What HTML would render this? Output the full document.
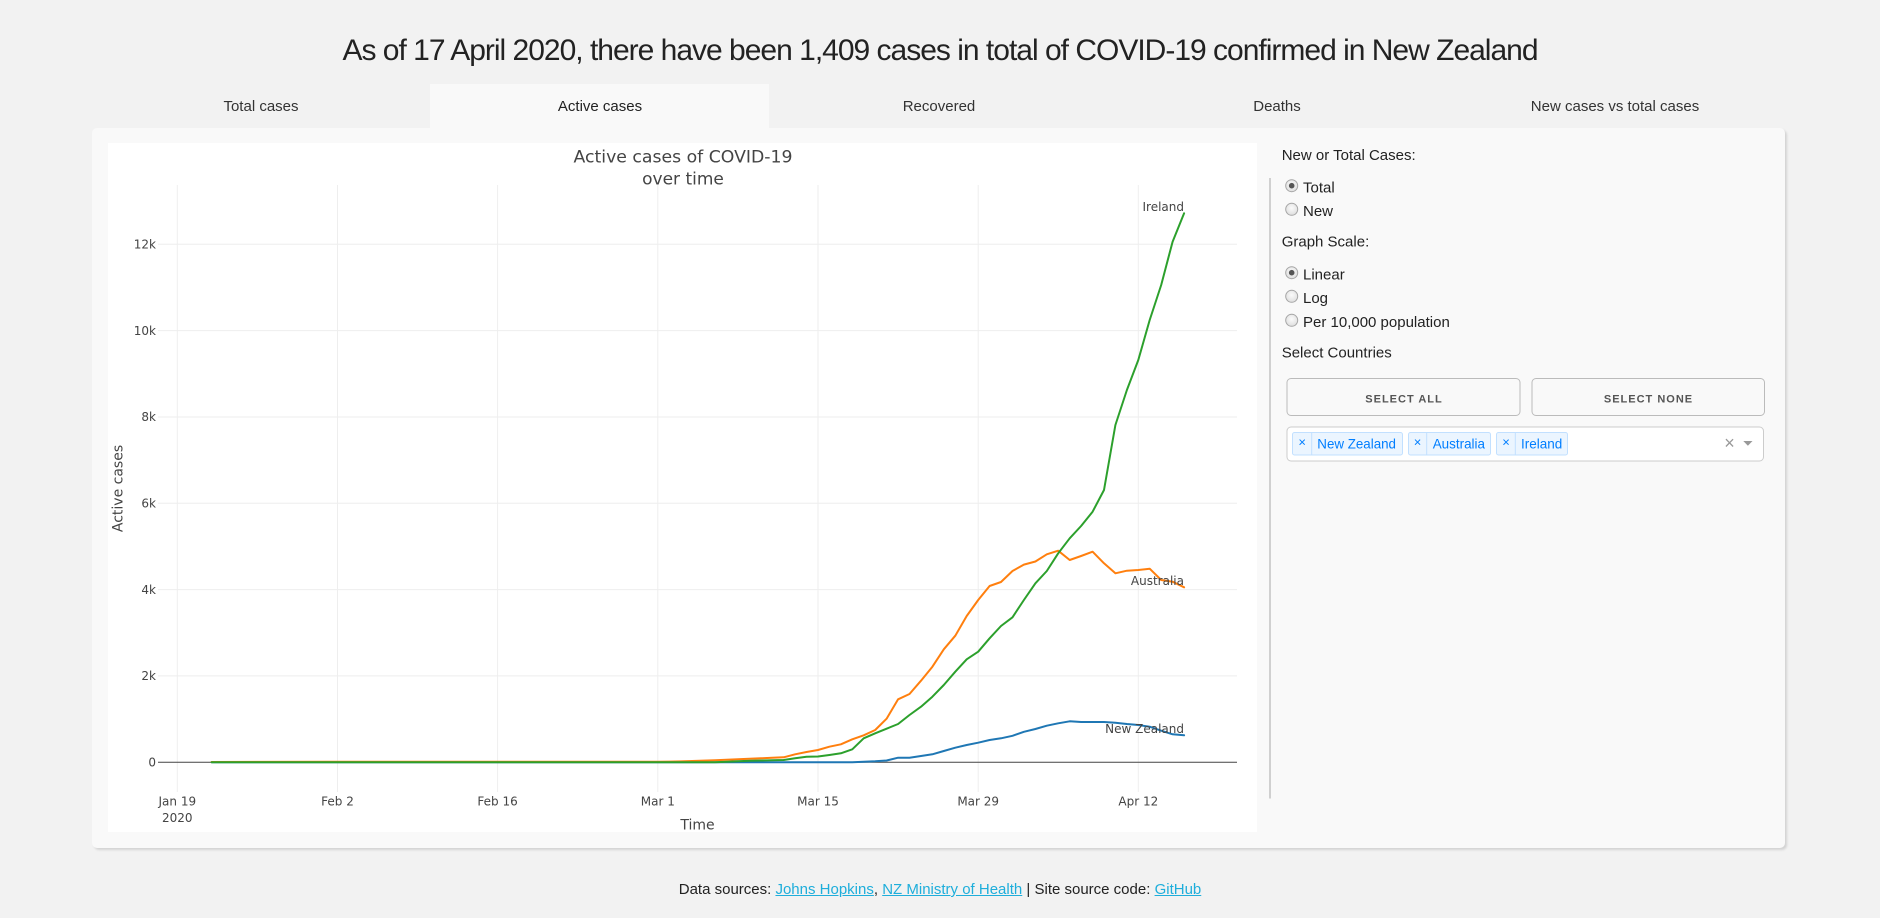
<!DOCTYPE html>
<html>
<head>
<meta charset="utf-8">
<style>
  html, body { margin:0; padding:0; }
  body { width:1880px; height:918px; overflow:hidden; background:#f2f2f2; position:relative;
         font-family:"Liberation Sans", Arial, sans-serif; color:#222; }
  .card { position:absolute; left:92px; top:128px; width:1693px; height:720px; background:#f9f9f9;
          border-radius:5px; box-shadow:2px 2px 2px lightgrey; }
  .tab-active { position:absolute; left:430px; top:84px; width:339px; height:46px; background:#f9f9f9; }
  .plot { position:absolute; left:108px; top:143px; width:1149px; height:689px; background:#fff; }
  .footer { position:absolute; left:0; top:880px; width:1880px; text-align:center; font-size:15px;
            line-height:20px; color:#222; white-space:nowrap; }
  .footer span.l { color:#1EAEDB; text-decoration:underline; }
  svg { position:absolute; left:0; top:0; }
</style>
</head>
<body>
<div class="tab-active"></div>
<div class="card"></div>
<div class="plot"></div>

<svg width="1880" height="918" viewBox="0 0 1880 918" xmlns="http://www.w3.org/2000/svg">
  <!-- Page title -->
  <text x="940" y="60" text-anchor="middle" font-family="Liberation Sans, Arial, sans-serif" font-size="30" fill="#222" letter-spacing="-1">As of 17 April 2020, there have been 1,409 cases in total of COVID-19 confirmed in New Zealand</text>

  <!-- Tabs -->
  <g font-family="Liberation Sans, Arial, sans-serif" font-size="15" fill="#333" text-anchor="middle">
    <text x="261" y="110.8">Total cases</text>
    <text x="600" y="110.8" fill="#222">Active cases</text>
    <text x="939" y="110.8">Recovered</text>
    <text x="1277" y="110.8">Deaths</text>
    <text x="1615" y="110.8">New cases vs total cases</text>
  </g>

  <!-- Plot gridlines -->
  <g stroke="#eeeeee" stroke-width="1" fill="none">
    <line x1="158" y1="675.9" x2="1237" y2="675.9"/>
    <line x1="158" y1="589.6" x2="1237" y2="589.6"/>
    <line x1="158" y1="503.3" x2="1237" y2="503.3"/>
    <line x1="158" y1="417.0" x2="1237" y2="417.0"/>
    <line x1="158" y1="330.6" x2="1237" y2="330.6"/>
    <line x1="158" y1="244.3" x2="1237" y2="244.3"/>
    <line x1="177.3" y1="185" x2="177.3" y2="792"/>
    <line x1="337.5" y1="185" x2="337.5" y2="792"/>
    <line x1="497.6" y1="185" x2="497.6" y2="792"/>
    <line x1="657.8" y1="185" x2="657.8" y2="792"/>
    <line x1="818.0" y1="185" x2="818.0" y2="792"/>
    <line x1="978.2" y1="185" x2="978.2" y2="792"/>
    <line x1="1138.3" y1="185" x2="1138.3" y2="792"/>
  </g>
  <line x1="158" y1="762.3" x2="1237" y2="762.3" stroke="#444" stroke-width="1"/>

  <!-- Series -->
  <g fill="none" stroke-width="2" stroke-linejoin="round" stroke-linecap="round">
    <polyline stroke="#1f77b4" points="211.6,762.3 852.3,762.2 863.7,761.8 875.2,761.3 886.6,760.5 898.1,757.7 909.5,757.7 921,756 932.4,754.3 943.8,751 955.3,747.7 966.7,745 978.2,742.7 989.6,740 1001,738.3 1012.5,735.8 1023.9,731.8 1035.4,729 1046.8,725.7 1058.2,723.3 1069.7,721.3 1081.1,722 1092.6,722 1104,722 1115.4,722.7 1126.9,724 1138.3,725 1149.7,726.7 1161.2,730.7 1172.6,734.3 1184.1,735.3"/>
    <polyline stroke="#ff7f0e" points="211.6,762 326,761.8 657.8,761.8 669.3,761.6 680.7,761.4 692.1,761 703.6,760.6 715,760.2 726.5,759.7 737.9,759.2 749.3,758.8 760.8,758.3 772.2,757.8 783.7,757.3 795.1,754.3 806.5,752 818,750 829.4,746.7 840.9,744.3 852.3,739.3 863.7,735.3 875.2,730 886.6,718.7 898.1,699.3 909.5,694 921,680.7 932.4,666.7 943.8,649.3 955.3,635.7 966.7,616 978.2,600 989.6,586 1001,582 1012.5,571 1023.9,564.6 1035.4,561.5 1046.8,554.3 1058.2,550.7 1069.7,560 1081.1,556 1092.6,551.7 1104,563.3 1115.4,573.3 1126.9,570.7 1138.3,570 1149.7,568.7 1161.2,580 1172.6,581.7 1184.1,587.3"/>
    <polyline stroke="#2ca02c" points="211.6,762.3 646.4,762.3 657.8,762.2 715,762.2 726.5,761.8 737.9,761.2 749.3,760.8 760.8,760.5 772.2,760.3 783.7,760 795.1,758.3 806.5,756.7 818,756.5 829.4,755 840.9,753.3 852.3,749.3 863.7,738.3 875.2,733.3 886.6,728.7 898.1,724 909.5,715 921,706.7 932.4,696.7 943.8,685 955.3,671.7 966.7,659.3 978.2,651.7 989.6,638.3 1001,626 1012.5,617.3 1023.9,600 1035.4,583.3 1046.8,571 1058.2,553.3 1069.7,538.3 1081.1,526 1092.6,511.7 1104,490 1115.4,425 1126.9,390 1138.3,360 1149.7,320 1161.2,285 1172.6,241.7 1184.1,213.3"/>
  </g>

  <!-- Plot text -->
  <g font-family="Verdana, 'DejaVu Sans', sans-serif" fill="#444">
    <text x="683" y="162.7" font-size="17" text-anchor="middle" textLength="219" lengthAdjust="spacingAndGlyphs">Active cases of COVID-19</text>
    <text x="683" y="184.5" font-size="17" text-anchor="middle">over time</text>

    <g font-size="12" text-anchor="end">
      <text x="156" y="766.5">0</text>
      <text x="156" y="680.1">2k</text>
      <text x="156" y="593.8">4k</text>
      <text x="156" y="507.5">6k</text>
      <text x="156" y="421.2">8k</text>
      <text x="156" y="334.8">10k</text>
      <text x="156" y="248.5">12k</text>
    </g>
    <g font-size="12" text-anchor="middle">
      <text x="177.3" y="805.7">Jan 19</text>
      <text x="177.3" y="822">2020</text>
      <text x="337.5" y="805.7">Feb 2</text>
      <text x="497.6" y="805.7">Feb 16</text>
      <text x="657.8" y="805.7">Mar 1</text>
      <text x="818.0" y="805.7">Mar 15</text>
      <text x="978.2" y="805.7">Mar 29</text>
      <text x="1138.3" y="805.7">Apr 12</text>
    </g>
    <g font-size="12" text-anchor="end">
      <text x="1184" y="210.8">Ireland</text>
      <text x="1184" y="584.8">Australia</text>
      <text x="1184" y="732.8">New Zealand</text>
    </g>
    <text x="697.5" y="829.5" font-size="14" text-anchor="middle">Time</text>
    <text transform="translate(122.5,488.5) rotate(-90)" font-size="14" text-anchor="middle">Active cases</text>
  </g>

  <!-- Right panel -->
  <line x1="1270" y1="178" x2="1270" y2="798.5" stroke="#d0d0d0" stroke-width="2"/>
  <defs>
    <radialGradient id="rg" cx="50%" cy="40%" r="60%">
      <stop offset="0" stop-color="#fbfbfb"/>
      <stop offset="1" stop-color="#dedede"/>
    </radialGradient>
  </defs>
  <g font-family="Liberation Sans, Arial, sans-serif" font-size="15" fill="#222">
    <text x="1281.7" y="160">New or Total Cases:</text>
    <text x="1303" y="192.3">Total</text>
    <text x="1303" y="216">New</text>
    <text x="1281.7" y="246.7">Graph Scale:</text>
    <text x="1303" y="279.3">Linear</text>
    <text x="1303" y="303">Log</text>
    <text x="1303" y="327">Per 10,000 population</text>
    <text x="1281.7" y="357.7">Select Countries</text>
  </g>
  <g stroke="#a5a5a5" stroke-width="1" fill="url(#rg)">
    <circle cx="1291.7" cy="185.7" r="6"/>
    <circle cx="1291.7" cy="209.3" r="6"/>
    <circle cx="1291.7" cy="272.7" r="6"/>
    <circle cx="1291.7" cy="296.3" r="6"/>
    <circle cx="1291.7" cy="320.3" r="6"/>
  </g>
  <circle cx="1291.7" cy="185.7" r="2.8" fill="#555"/>
  <circle cx="1291.7" cy="272.7" r="2.8" fill="#555"/>

  <!-- Buttons -->
  <rect x="1287" y="378.5" width="233" height="37" rx="4" ry="4" fill="none" stroke="#bbb" stroke-width="1"/>
  <rect x="1532" y="378.5" width="232.5" height="37" rx="4" ry="4" fill="none" stroke="#bbb" stroke-width="1"/>
  <g font-family="Liberation Sans, Arial, sans-serif" font-size="11" font-weight="bold" fill="#555" letter-spacing="1" text-anchor="middle">
    <text x="1404" y="402.3">SELECT ALL</text>
    <text x="1648.5" y="402.3">SELECT NONE</text>
  </g>

  <!-- Dropdown -->
  <rect x="1287" y="427" width="476.5" height="34" rx="4" ry="4" fill="#fff" stroke="#ccc" stroke-width="1"/>
  <g fill="#ebf5ff" stroke="#c2e0ff" stroke-width="1">
    <rect x="1292.5" y="432.5" width="110" height="22.5" rx="2" ry="2"/>
    <rect x="1408.5" y="432.5" width="82" height="22.5" rx="2" ry="2"/>
    <rect x="1496.5" y="432.5" width="71" height="22.5" rx="2" ry="2"/>
    <line x1="1311.7" y1="432.5" x2="1311.7" y2="455"/>
    <line x1="1426.7" y1="432.5" x2="1426.7" y2="455"/>
    <line x1="1515.3" y1="432.5" x2="1515.3" y2="455"/>
  </g>
  <g font-family="Liberation Sans, Arial, sans-serif" fill="#007eff">
    <g font-size="13" text-anchor="middle">
      <text x="1302.2" y="446.5">×</text>
      <text x="1417.6" y="446.5">×</text>
      <text x="1506" y="446.5">×</text>
    </g>
    <g font-size="14">
      <text x="1317.3" y="448.5" textLength="78.7" lengthAdjust="spacingAndGlyphs">New Zealand</text>
      <text x="1432.7" y="448.5" textLength="52.3" lengthAdjust="spacingAndGlyphs">Australia</text>
      <text x="1521" y="448.5" textLength="41.3" lengthAdjust="spacingAndGlyphs">Ireland</text>
    </g>
  </g>
  <text x="1729.5" y="449" font-family="Liberation Sans, Arial, sans-serif" font-size="18" fill="#999" text-anchor="middle">×</text>
  <polygon points="1743.3,441 1752.5,441 1747.9,445.8" fill="#999"/>
</svg>

<div class="footer">Data sources: <span class="l">Johns Hopkins</span>, <span class="l">NZ Ministry of Health</span> | Site source code: <span class="l">GitHub</span></div>
</body>
</html>
